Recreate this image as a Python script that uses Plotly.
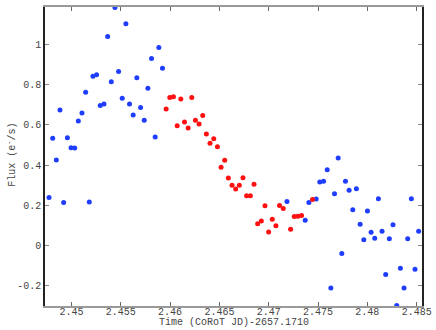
import plotly.graph_objects as go

# Time (CoRoT JD) - 2657.1710
time = [
    2.44773, 2.44810, 2.44847, 2.44884, 2.44921, 2.44959, 2.44996, 2.45033, 2.45070, 2.45107,
    2.45144, 2.45181, 2.45218, 2.45255, 2.45292, 2.45330, 2.45367, 2.45404, 2.45441, 2.45478,
    2.45515, 2.45552, 2.45589, 2.45626, 2.45663, 2.45701, 2.45738, 2.45775, 2.45812, 2.45849,
    2.45886, 2.45923, 2.45960, 2.45997, 2.46034, 2.46072, 2.46109, 2.46146, 2.46183, 2.46220,
    2.46257, 2.46294, 2.46331, 2.46368, 2.46405, 2.46443, 2.46480, 2.46517, 2.46554, 2.46591,
    2.46628, 2.46665, 2.46702, 2.46739, 2.46776, 2.46814, 2.46851, 2.46888, 2.46925, 2.46962,
    2.46999, 2.47036, 2.47073, 2.47110, 2.47147, 2.47185, 2.47222, 2.47259, 2.47296, 2.47333,
    2.47370, 2.47407, 2.47444, 2.47481, 2.47518, 2.47556, 2.47593, 2.47630, 2.47667, 2.47704,
    2.47741, 2.47778, 2.47815, 2.47852, 2.47889, 2.47927, 2.47964, 2.48001, 2.48038, 2.48075,
    2.48112, 2.48149, 2.48186, 2.48223, 2.48260, 2.48298, 2.48335, 2.48372, 2.48409, 2.48446,
    2.48483, 2.48520, 2.48557,
]

flux = [
    0.239, 0.533, 0.425, 0.674, 0.214, 0.536, 0.486, 0.485, 0.619, 0.659,
    0.762, 0.216, 0.842, 0.849, 0.696, 0.704, 1.039, 0.814, 1.184, 0.865,
    0.732, 1.103, 0.704, 0.649, 0.834, 0.686, 0.623, 0.782, 0.930, 0.540,
    0.985, 0.882, 0.679, 0.736, 0.740, 0.596, 0.729, 0.614, 0.584, 0.736,
    0.623, 0.604, 0.647, 0.555, 0.508, 0.531, 0.491, 0.389, 0.424, 0.335,
    0.299, 0.281, 0.299, 0.337, 0.247, 0.247, 0.304, 0.108, 0.122, 0.197,
    0.067, 0.131, 0.098, 0.199, 0.184, 0.219, 0.081, 0.144, 0.145, 0.149,
    0.126, 0.214, 0.229, 0.231, 0.316, 0.320, 0.377, -0.211, 0.257, 0.435,
    -0.040, 0.320, 0.275, 0.178, 0.282, 0.106, 0.028, 0.171, 0.066, 0.036,
    0.232, 0.071, -0.144, 0.034, 0.103, -0.299, -0.113, -0.211, 0.033, 0.232,
    -0.118, 0.071, -0.220,
]

# 'r' = highlighted (red) points, 'b' = other (blue) points
group = list(
    "bbbbbbbbbbbbbbbbbbbbbbbbbbbbbbbb"
    "rrrrrrrrrrrrrrrrrrrrrrrrrrrrrrrrr"
    "brrrrbbrbb"
    "bbbbbbbbbbbbbbbbbbbbbbbbbbbb"
)

x_tickvals = [2.45, 2.455, 2.46, 2.465, 2.47, 2.475, 2.48, 2.485]
x_ticktext = ["2.45", "2.455", "2.46", "2.465", "2.47", "2.475", "2.48", "2.485"]
y_tickvals = [-0.2, 0, 0.2, 0.4, 0.6, 0.8, 1.0]
y_ticktext = ["-0.2", "0", "0.2", "0.4", "0.6", "0.8", "1"]

bt = [t for t, g in zip(time, group) if g == "b"]
bf = [f for f, g in zip(flux, group) if g == "b"]
rt = [t for t, g in zip(time, group) if g == "r"]
rf = [f for f, g in zip(flux, group) if g == "r"]

font_family = "Liberation Mono, DejaVu Sans Mono, monospace"
txt_color = "#444444"

fig = go.Figure()
fig.add_trace(go.Scatter(x=bt, y=bf, mode="markers", cliponaxis=False,
                         marker=dict(color="#1f3dff", size=5), showlegend=False))
fig.add_trace(go.Scatter(x=rt, y=rf, mode="markers", cliponaxis=False,
                         marker=dict(color="#ff1010", size=5), showlegend=False))

fig.update_layout(
    width=436, height=330,
    margin=dict(l=45, r=14, t=7, b=24),
    paper_bgcolor="white", plot_bgcolor="white",
    font=dict(family=font_family, size=10, color=txt_color),
    xaxis=dict(range=[2.44732, 2.48554], tickvals=x_tickvals, ticktext=x_ticktext,
               showgrid=False, zeroline=False, showline=True, linecolor="#999999",
               linewidth=2, mirror="ticks", ticks="inside", ticklen=4,
               tickcolor="#666666", tickwidth=1, automargin=False,
               ticklabelstandoff=-5,
               tickfont=dict(family=font_family, size=10, color=txt_color)),
    yaxis=dict(range=[-0.301, 1.186], tickvals=y_tickvals, ticktext=y_ticktext,
               showgrid=False, zeroline=False, showline=True, linecolor="#222222",
               linewidth=1.5, mirror="ticks", ticks="inside", ticklen=4,
               tickcolor="#888888", tickwidth=1, automargin=False,
               tickfont=dict(family=font_family, size=10, color=txt_color)),
    annotations=[
        dict(text="Time (CoRoT JD)-2657.1710", xref="paper", yref="paper",
             x=0.5, y=-0.0814, xanchor="center", yanchor="bottom", showarrow=False,
             height=11, valign="middle",
             font=dict(family=font_family, size=10, color=txt_color)),
        dict(text="Flux (e<sup>-</sup>/s)", xref="paper", yref="paper",
             x=-0.091, y=0.505, xanchor="center", yanchor="middle", showarrow=False,
             textangle=-90,
             font=dict(family=font_family, size=10, color=txt_color)),
    ],
)

fig.write_html("out.html", config={"displayModeBar": False},
               post_script="document.body.style.margin='0';document.body.style.padding='0';")
